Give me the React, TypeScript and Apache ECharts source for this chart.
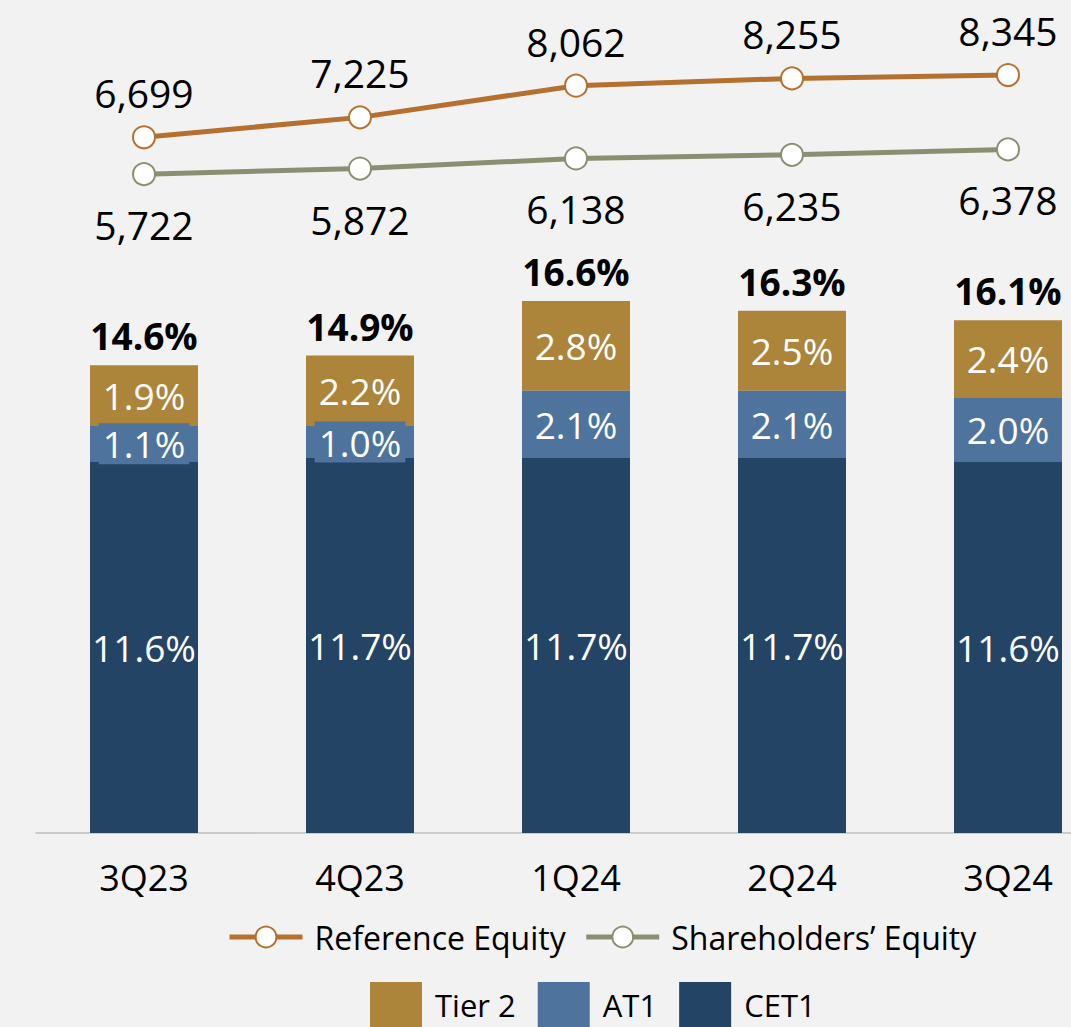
import React, { useEffect, useRef } from "react";
import * as echarts from "echarts";

const categories = ["3Q23", "4Q23", "1Q24", "2Q24", "3Q24"];
const cet1 = [11.6, 11.7, 11.7, 11.7, 11.6];
const at1 = [1.1, 1.0, 2.1, 2.1, 2.0];
const tier2 = [1.9, 2.2, 2.8, 2.5, 2.4];
const totals = [14.6, 14.9, 16.6, 16.3, 16.1];
const referenceEquity = [6699, 7225, 8062, 8255, 8345];
const shareholdersEquity = [5722, 5872, 6138, 6235, 6378];

const FONT = "Open Sans";
const C_TIER2 = "#AC853A";
const C_AT1 = "#4E739C";
const C_CET1 = "#244466";
const C_REF = "#B5702F";
const C_SH = "#8B8F72";

export default function App() {
  const ref = useRef<HTMLDivElement>(null);
  useEffect(() => {
    if (!ref.current) return;
    const chart = echarts.init(ref.current, undefined, { renderer: "svg" });
    const pct = (p: any) => p.value.toFixed(1) + "%";
    const fmtNum = (p: any) => p.value.toLocaleString("en-US");
    const barLabel = {
      show: true,
      position: "inside",
      color: "#fff",
      fontFamily: FONT,
      fontSize: 37,
      formatter: pct,
    };
    chart.setOption({
      animation: false,
      backgroundColor: "#F2F2F2",
      textStyle: { fontFamily: FONT },
      grid: { left: 36, right: 0, top: 20, height: 813 },
      xAxis: {
        type: "category",
        data: categories,
        axisLine: { lineStyle: { color: "#BFBFBF", width: 1.5 } },
        axisTick: { show: false },
        axisLabel: { color: "#000", fontFamily: FONT, fontSize: 36, margin: 26 },
      },
      yAxis: [
        { type: "value", min: 0, max: 25.37, show: false, splitLine: { show: false } },
        { type: "value", min: -11700, max: 9800, show: false, splitLine: { show: false } },
      ],
      legend: [
        {
          data: ["Reference Equity", "Shareholders’ Equity"],
          left: 227,
          top: 921,
          padding: 0,
          itemWidth: 73,
          itemHeight: 26,
          itemGap: 18,
          lineStyle: { width: 5 },
          textStyle: {
            fontFamily: FONT,
            fontSize: 32,
            color: "#000",
            lineHeight: 32,
            padding: [0, 0, 0, 7],
          },
        },
        {
          data: ["Tier 2", "AT1", "CET1"],
          left: 370,
          top: 982,
          padding: 0,
          icon: "rect",
          itemWidth: 52,
          itemHeight: 45,
          itemGap: 22,
          textStyle: {
            fontFamily: FONT,
            fontSize: 31,
            color: "#000",
            lineHeight: 30,
            padding: [0, 0, 0, 8],
          },
        },
      ],
      series: [
        {
          name: "CET1",
          type: "bar",
          stack: "cap",
          barWidth: 108,
          data: cet1,
          itemStyle: { color: C_CET1 },
          label: barLabel,
        },
        {
          name: "AT1",
          type: "bar",
          stack: "cap",
          barWidth: 108,
          data: at1,
          itemStyle: { color: C_AT1 },
          label: { ...barLabel, backgroundColor: C_AT1, padding: [2, 4, 2, 4] },
          z: 3,
        },
        {
          name: "Tier 2",
          type: "bar",
          stack: "cap",
          barWidth: 108,
          data: tier2,
          itemStyle: { color: C_TIER2 },
          label: barLabel,
        },
        {
          name: "Total",
          type: "bar",
          stack: "cap",
          barWidth: 108,
          data: totals.map(() => 0),
          itemStyle: { color: "transparent" },
          label: {
            show: true,
            position: "top",
            distance: 11,
            color: "#000",
            fontFamily: FONT,
            fontSize: 37,
            fontWeight: "bold",
            formatter: (p: any) => totals[p.dataIndex].toFixed(1) + "%",
          },
        },
        {
          name: "Reference Equity",
          type: "line",
          yAxisIndex: 1,
          data: referenceEquity,
          symbol: "circle",
          symbolSize: 22,
          lineStyle: { color: C_REF, width: 5 },
          itemStyle: { color: "#fff", borderColor: C_REF, borderWidth: 2 },
          label: {
            show: true,
            position: "top",
            distance: 13,
            color: "#000",
            fontFamily: FONT,
            fontSize: 39,
            formatter: fmtNum,
          },
          z: 5,
        },
        {
          name: "Shareholders’ Equity",
          type: "line",
          yAxisIndex: 1,
          data: shareholdersEquity,
          symbol: "circle",
          symbolSize: 22,
          lineStyle: { color: C_SH, width: 5 },
          itemStyle: { color: "#fff", borderColor: C_SH, borderWidth: 2 },
          label: {
            show: true,
            position: "bottom",
            distance: 19,
            color: "#000",
            fontFamily: FONT,
            fontSize: 39,
            formatter: fmtNum,
          },
          z: 5,
        },
      ],
    });
    return () => chart.dispose();
  }, []);
  return (
    <div
      style={{
        position: "fixed",
        left: 0,
        top: 0,
        width: 1071,
        height: 1027,
        overflow: "hidden",
      }}
    >
      <div ref={ref} style={{ width: 1116, height: 1027 }} />
    </div>
  );
}
